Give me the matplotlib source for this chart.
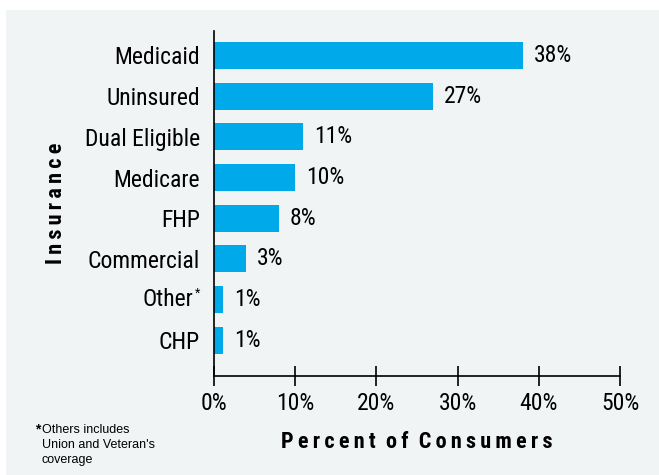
import matplotlib.pyplot as plt
from matplotlib.patches import Rectangle

categories = ["Medicaid", "Uninsured", "Dual Eligible", "Medicare", "FHP", "Commercial", "Other", "CHP"]
values = [38, 27, 11, 10, 8, 4, 1.2, 1.2]
value_labels = ["38%", "27%", "11%", "10%", "8%", "3%", "1%", "1%"]
x_ticks = [0, 10, 20, 30, 40, 50]

bar_color = "#00aaea"
panel_color = "#f1f4f5"

plt.rcParams["font.family"] = ["Roboto Condensed", "DejaVu Sans"]


def spaced(s):
    # crude letter spacing with thin spaces
    return "\u2009".join(s)


fig = plt.figure(figsize=(6.59, 4.75), dpi=100)
fig.patch.set_facecolor("white")
fig.patches.append(Rectangle((6 / 659, 0), 1, 1 - 10 / 475, transform=fig.transFigure,
                             facecolor=panel_color, edgecolor="none", zorder=-10))

ax = fig.add_axes([213.7 / 659, 99.3 / 475, 406.5 / 659, 344.7 / 475])
ax.set_facecolor("none")

y = list(range(len(categories)))[::-1]
ax.barh(y, values, height=0.665, color=bar_color)
ax.set_xlim(0, 50)
ax.set_ylim(-0.87, 7.6)

for yi, v, lab in zip(y, values, value_labels):
    ax.text(v + 1.35, yi, lab, va="center", ha="left", fontsize=17)

ax.set_yticks(y)
ax.set_yticklabels(["" if c == "Other" else c for c in categories], fontsize=17)
ax.tick_params(axis="y", length=0, pad=10)
# "Other" with a small asterisk
ax.annotate("Other", xy=(0, y[6]), xycoords=("axes fraction", "data"), xytext=(-15, 0),
            textcoords="offset points", ha="right", va="center", fontsize=17)
ax.annotate("*", xy=(0, y[6]), xycoords=("axes fraction", "data"), xytext=(-10, 5),
            textcoords="offset points", ha="right", va="center", fontsize=9)

ax.set_xticks(x_ticks)
ax.set_xticklabels([f"{t}%" for t in x_ticks], fontsize=17)
ax.tick_params(axis="x", direction="inout", length=15, width=1.2, pad=4)

for s in ["top", "right"]:
    ax.spines[s].set_visible(False)
ax.spines["left"].set_linewidth(1.2)
ax.spines["bottom"].set_linewidth(1.2)

ax.set_xlabel(spaced("Percent") + "  " + spaced("of") + "  " + spaced("Consumers"),
              fontsize=16, fontweight="bold", labelpad=12)
ax.set_ylabel(spaced("Insurance"), fontsize=16, fontweight="bold")
ax.yaxis.set_label_coords(-0.36, 0.5)

fig.text(35 / 659, 1 - 429 / 475, "*", fontsize=10, fontweight="bold", va="center", ha="left",
         family=["Liberation Sans"])
fig.text(42 / 659, 1 - 445 / 475, "Others includes\nUnion and Veteran's\ncoverage",
         fontsize=9, va="center", ha="left", linespacing=1.3, family=["Liberation Sans"])

fig.savefig("out.png", dpi=100)
